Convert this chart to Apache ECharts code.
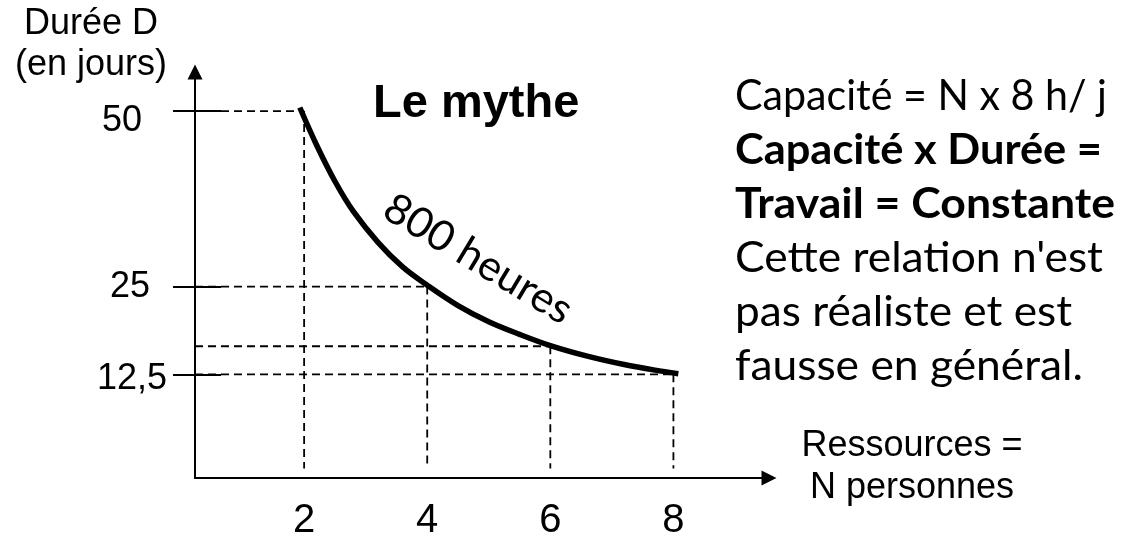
<!DOCTYPE html>
<html><head><meta charset="utf-8">
<script src="https://cdn.jsdelivr.net/npm/echarts@6/dist/echarts.min.js"></script>
<style>html,body{margin:0;padding:0;background:#fff}#c{width:1123px;height:538px}</style>
</head><body><div id="c"></div>
<script>
// ---- data ----
const xTickValues = [2, 4, 6, 8];
const yTickValues = [12.5, 25, 50];
const curveX = [1.93, 2.2, 2.5, 2.8, 3.2, 3.6, 4.0, 4.5, 5.0, 5.5, 6.0, 6.6, 7.2, 7.7, 8.08];
const curveY = [50.5, 45.2, 40.0, 35.7, 31.3, 27.8, 25.2, 22.3, 20.0, 18.2, 16.6, 15.1, 13.9, 13.1, 12.6];
const guideX = [2, 4, 6, 8];
const guideY = [50, 25, 16.5, 12.5];
const yAxisTitle = ['Durée D', '(en jours)'];
const xAxisTitle = ['Ressources =', 'N personnes'];
const chartTitle = 'Le mythe';
const curveLabel = '800 heures';
const noteLines = ['Capacité = N x 8 h/ j', 'Capacité x Durée =', 'Travail = Constante', "Cette relation n'est", 'pas réaliste et est', 'fausse en général.'];
const noteBold = [false, true, true, false, false, false];

// ---- layout / style ----
const X_MIN = 0.227, X_MAX = 9.553, Y_MIN = -2.26, Y_MAX = 55.56;
const GUIDE_BOTTOM = -0.9;
const ARIAL = 'Liberation Sans, Arial, sans-serif';
const CAL = 'Lato, Carlito, sans-serif';
const noteWidths = [372, 367, 380, 368, 337, 348];
const noteY = [96, 150, 204, 258, 312, 366];

const mctx = document.createElement('canvas').getContext('2d');
function fitScale(text, weight, size, family, target) {
  mctx.font = weight + ' ' + size + 'px ' + family;
  return target / mctx.measureText(text).width;
}

const series = [];
series.push({
  type: 'line', data: curveX.map((x, i) => [x, curveY[i]]), smooth: 0.35,
  symbol: 'none', lineStyle: { color: '#000', width: 5.5, cap: 'butt' }, z: 5
});
const dash = { color: '#000', width: 1.8, type: [8, 5] };
guideX.forEach((gx, i) => {
  series.push({ type: 'line', data: [[X_MIN, guideY[i]], [gx, guideY[i]]], symbol: 'none', lineStyle: dash, z: 2 });
  series.push({ type: 'line', data: [[gx, guideY[i]], [gx, GUIDE_BOTTOM]], symbol: 'none', lineStyle: dash, z: 2 });
});

const yRich = {
  t0: { fontSize: 36, fontFamily: ARIAL, color: '#000', padding: [10, 0, 0, 0] },
  t1: { fontSize: 36, fontFamily: ARIAL, color: '#000', padding: [0, 17, 0, 0] },
  t2: { fontSize: 36, fontFamily: ARIAL, color: '#000', padding: [20, 25, 0, 0] }
};

const graphic = [];
function txt(text, x, y, opts) {
  graphic.push(Object.assign({
    type: 'text', x: x, y: y,
    style: Object.assign({ text: text, fill: '#000', align: 'left', verticalAlign: 'middle' }, opts.style)
  }, opts.el || {}));
}
txt(yAxisTitle[0], 91, 24, { style: { fontSize: 36, fontFamily: ARIAL, align: 'center' } });
txt(yAxisTitle[1], 91, 65, { style: { fontSize: 36, fontFamily: ARIAL, align: 'center' } });
txt(xAxisTitle[0], 912, 446, { style: { fontSize: 36, fontFamily: ARIAL, align: 'center' } });
txt(xAxisTitle[1], 912, 488, { style: { fontSize: 36, fontFamily: ARIAL, align: 'center' } });
txt(chartTitle, 373, 104, { style: { fontSize: 47, fontFamily: ARIAL, fontWeight: 'bold' } });
noteLines.forEach((t, i) => {
  const w = noteBold[i] ? 'bold' : 'normal';
  txt(t, 735, noteY[i], {
    style: { fontSize: 42, fontFamily: CAL, fontWeight: w },
    el: { scaleX: fitScale(t, w, 42, CAL, noteWidths[i]) }
  });
});
txt(curveLabel, 478, 259, {
  style: { fontSize: 42, fontFamily: CAL, align: 'center' },
  el: { rotation: -31 * Math.PI / 180, scaleX: fitScale(curveLabel, 'normal', 42, CAL, 212) }
});

const chart = echarts.init(document.getElementById('c'));
chart.setOption({
  animation: false,
  backgroundColor: '#fff',
  grid: { left: 195, right: 354, top: 72, bottom: 60, containLabel: false, outerBoundsMode: 'none' },
  xAxis: {
    type: 'value', min: X_MIN, max: X_MAX,
    axisLine: { show: true, onZero: false, symbol: ['none', 'triangle'], symbolSize: [15, 15], lineStyle: { color: '#000', width: 2 } },
    axisTick: { show: false },
    splitLine: { show: false },
    axisLabel: { customValues: xTickValues, fontSize: 40, fontFamily: ARIAL, color: '#000', margin: 23 }
  },
  yAxis: [{
    type: 'value', min: Y_MIN, max: Y_MAX, position: 'left',
    axisLine: { show: true, onZero: false, symbol: ['none', 'triangle'], symbolSize: [15, 15], lineStyle: { color: '#000', width: 2 } },
    axisTick: { show: true, customValues: yTickValues, length: 22, lineStyle: { color: '#000', width: 2 } },
    splitLine: { show: false },
    axisLabel: {
      customValues: yTickValues, margin: 28,
      formatter: function (v) {
        const i = yTickValues.indexOf(v);
        return '{t' + i + '|' + String(v).replace('.', ',') + '}';
      },
      rich: yRich
    }
  }, {
    type: 'value', min: Y_MIN, max: Y_MAX, position: 'left',
    axisLine: { show: false, onZero: false },
    axisTick: { show: true, inside: true, customValues: yTickValues, length: 26, lineStyle: { color: '#000', width: 2 } },
    splitLine: { show: false },
    axisLabel: { show: false }
  }],
  series: series,
  graphic: graphic
});
</script></body></html>
